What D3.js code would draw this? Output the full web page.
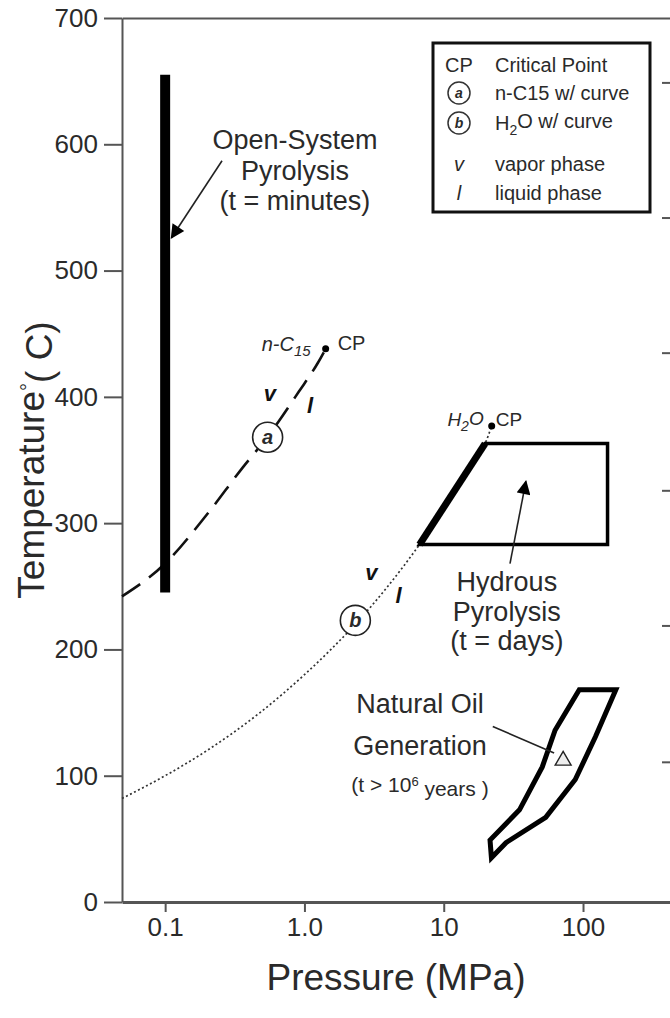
<!DOCTYPE html>
<html>
<head>
<meta charset="utf-8">
<script src="https://cdn.jsdelivr.net/npm/d3@7"></script>
<style>
  html, body { margin: 0; padding: 0; background: #fff; }
  svg { display: block; font-family: "Liberation Sans", Arial, Helvetica, sans-serif; }
</style>
</head>
<body>
<svg id="chart" width="670" height="1018"></svg>
<script>
// axis values
const pressureTicks = [0.1, 1, 10, 100]
const pressureTickLabels = ['0.1', '1.0', '10', '100']
const tempTicks = [0, 100, 200, 300, 400, 500, 600, 700]
const rightTicks = [111, 219, 326, 435, 542, 649]

// phase curves, [pressure MPa, temperature C]
const nC15Curve = [[0.049, 242], [0.1, 268], [0.2, 307], [0.36, 344], [0.54, 368], [0.91, 404], [1.25, 427], [1.42, 438]]
const waterCurve = [[0.049, 82], [0.1, 100], [0.2, 120], [0.48, 150], [1.0, 180], [1.55, 200], [2.32, 220], [3.97, 250],
  [6.7, 283], [8.6, 300], [12.8, 330], [16.5, 350], [19.8, 363], [22.1, 377]]
const criticalPoints = [{p: 1.42, t: 438, name: 'n-C15'}, {p: 22.1, t: 377, name: 'H2O'}]

// experiment / nature fields
const openSystem = {p: 0.1, tMin: 245, tMax: 655}
const hydrousField = [[6.7, 283], [19.8, 363], [150, 363], [150, 283]]
const naturalOilField = [[94, 168], [172, 168], [123, 131], [88, 97], [54, 67], [28, 47], [22, 35], [21.5, 49], [35, 73], [51, 107], [63, 136]]
const naturalOilMarker = [72, 112]

// curve markers
const curveCircles = [{label: 'a', p: 0.544, t: 368}, {label: 'b', p: 2.32, t: 223}]
const phaseLabels = [{txt: 'v', p: 0.564, t: 403}, {txt: 'l', p: 1.096, t: 393}, {txt: 'v', p: 3.02, t: 261}, {txt: 'l', p: 4.73, t: 243}]

const svg = d3.select('#chart')
const mLeft = 122, mRight = 674, mTop = 18, mBottom = 902

const x = d3.scaleLog().domain([0.049, 450]).range([mLeft, mRight])
const y = d3.scaleLinear().domain([0, 700]).range([mBottom, mTop])

const axisColor = '#555'
const textColor = '#2a2a2a'

// frame / axes
const yAxis = svg.append('g').attr('transform', `translate(${mLeft},0)`)
  .call(d3.axisLeft(y).tickValues(tempTicks).tickSize(18).tickSizeOuter(0).tickPadding(6))
const xAxis = svg.append('g').attr('transform', `translate(0,${mBottom})`)
  .call(d3.axisBottom(x).tickValues(pressureTicks).tickFormat((d, i) => pressureTickLabels[i]).tickSize(10).tickSizeOuter(0).tickPadding(6))
const topAxis = svg.append('g').attr('transform', `translate(0,${mTop})`)
  .call(d3.axisTop(x).tickValues([]).tickSizeOuter(0))
const rightAxis = svg.append('g').attr('transform', `translate(${mRight},0)`)
  .call(d3.axisLeft(y).tickValues(rightTicks).tickSize(12).tickFormat(''))
rightAxis.select('.domain').remove()

;[yAxis, xAxis, topAxis, rightAxis].forEach(g => {
  g.selectAll('path, line').attr('stroke', axisColor).attr('stroke-width', 2)
  g.selectAll('text').attr('fill', textColor).style('font-size', '26px')
})
xAxis.select('.domain').attr('stroke-width', 3)

// axis titles
svg.append('text')
  .attr('x', (mLeft + 670) / 2).attr('y', 990)
  .attr('text-anchor', 'middle')
  .attr('fill', textColor)
  .style('font-size', '37px')
  .text('Pressure (MPa)')

const yTitle = svg.append('text')
  .attr('transform', `translate(44,${(mTop + mBottom) / 2}) rotate(-90)`)
  .attr('text-anchor', 'middle')
  .attr('fill', textColor)
  .style('font-size', '37px')
yTitle.append('tspan').text('Temperature')
yTitle.append('tspan').attr('dy', '-0.45em').style('font-size', '20px').text('°')
yTitle.append('tspan').attr('dy', '0.45em').text('( C)')

const line = d3.line().x(d => x(d[0])).y(d => y(d[1])).curve(d3.curveMonotoneX)
const polygon = d3.line().x(d => x(d[0])).y(d => y(d[1])).curve(d3.curveLinearClosed)

// water vapour/liquid curve (dotted)
svg.append('path')
  .attr('d', line(waterCurve))
  .attr('fill', 'none')
  .attr('stroke', '#333')
  .attr('stroke-width', 1.7)
  .attr('stroke-dasharray', '2,2.5')

// n-C15 curve (dashed)
svg.append('path')
  .attr('d', line(nC15Curve))
  .attr('fill', 'none')
  .attr('stroke', '#111')
  .attr('stroke-width', 2.6)
  .attr('stroke-dasharray', '22,11')

// open-system pyrolysis bar
svg.append('line')
  .attr('x1', x(openSystem.p)).attr('x2', x(openSystem.p))
  .attr('y1', y(openSystem.tMin)).attr('y2', y(openSystem.tMax))
  .attr('stroke', '#000')
  .attr('stroke-width', 10)

// hydrous pyrolysis field
svg.append('path')
  .attr('d', polygon(hydrousField))
  .attr('fill', 'none')
  .attr('stroke', '#000')
  .attr('stroke-width', 3.5)
svg.append('line')
  .attr('x1', x(hydrousField[0][0])).attr('y1', y(hydrousField[0][1]))
  .attr('x2', x(hydrousField[1][0])).attr('y2', y(hydrousField[1][1]))
  .attr('stroke', '#000')
  .attr('stroke-width', 7)

// natural oil generation field
svg.append('path')
  .attr('d', polygon(naturalOilField))
  .attr('fill', 'none')
  .attr('stroke', '#000')
  .attr('stroke-width', 5)
  .attr('stroke-linejoin', 'miter')

// circled curve labels
const circ = svg.selectAll('g.curveCircle').data(curveCircles).enter().append('g')
  .attr('class', 'curveCircle')
  .attr('transform', d => `translate(${x(d.p)},${y(d.t)})`)
circ.append('circle').attr('r', 15).attr('fill', '#fff').attr('stroke', '#222').attr('stroke-width', 1.6)
circ.append('text')
  .attr('text-anchor', 'middle').attr('dy', '0.35em')
  .style('font-size', '20px').style('font-style', 'italic').style('font-weight', 'bold')
  .attr('fill', textColor)
  .text(d => d.label)

// v / l phase labels
svg.selectAll('text.phase').data(phaseLabels).enter().append('text')
  .attr('class', 'phase')
  .attr('x', d => x(d.p)).attr('y', d => y(d.t))
  .attr('text-anchor', 'middle').attr('dy', '0.35em')
  .style('font-size', '22px').style('font-style', 'italic').style('font-weight', 'bold')
  .attr('fill', '#111')
  .text(d => d.txt)

// critical points
svg.selectAll('circle.cp').data(criticalPoints).enter().append('circle')
  .attr('class', 'cp')
  .attr('cx', d => x(d.p)).attr('cy', d => y(d.t))
  .attr('r', 3.5).attr('fill', '#000')

const cpN = criticalPoints[0], cpW = criticalPoints[1]
const nLab = svg.append('text')
  .attr('x', x(cpN.p) - 15).attr('y', y(cpN.t) + 2)
  .attr('text-anchor', 'end').attr('fill', textColor)
  .style('font-size', '20px').style('font-style', 'italic')
nLab.append('tspan').text('n-C')
nLab.append('tspan').attr('dy', '0.35em').style('font-size', '15px').text('15')
svg.append('text')
  .attr('x', x(cpN.p) + 12).attr('y', y(cpN.t) + 1)
  .attr('fill', textColor).style('font-size', '20px')
  .text('CP')

const wLab = svg.append('text')
  .attr('x', x(cpW.p) - 8).attr('y', y(cpW.t))
  .attr('text-anchor', 'end').attr('fill', textColor)
  .style('font-size', '19px').style('font-style', 'italic')
wLab.append('tspan').text('H')
wLab.append('tspan').attr('dy', '0.35em').style('font-size', '14px').text('2')
wLab.append('tspan').attr('dy', '-0.3em').text('O')
svg.append('text')
  .attr('x', x(cpW.p) + 4).attr('y', y(cpW.t))
  .attr('fill', textColor).style('font-size', '19px')
  .text('CP')

// annotations
const multiLine = (p, t, lines, size, lh) => {
  const txt = svg.append('text')
    .attr('x', x(p)).attr('y', y(t))
    .attr('text-anchor', 'middle').attr('fill', textColor)
    .style('font-size', size + 'px')
  lines.forEach((l, i) => txt.append('tspan').attr('x', x(p)).attr('dy', i ? lh : 0).text(l))
  return txt
}
multiLine(0.855, 596, ['Open-System', 'Pyrolysis', '(t = minutes)'], 27, 30.5)
multiLine(28.4, 246, ['Hydrous', 'Pyrolysis', '(t = days)'], 27, 29.5)
multiLine(6.75, 150, ['Natural Oil', 'Generation'], 27, 42)

const yrs = svg.append('text')
  .attr('x', x(6.75)).attr('y', y(87))
  .attr('text-anchor', 'middle').attr('fill', textColor)
  .style('font-size', '21px')
yrs.append('tspan').text('(t > 10')
yrs.append('tspan').attr('dy', '-0.5em').style('font-size', '13px').text('6')
yrs.append('tspan').attr('dy', '0.5em').text(' years )')

// arrows
const defs = svg.append('defs')
defs.append('marker')
  .attr('id', 'bigHead')
  .attr('viewBox', '0 0 10 10').attr('refX', 9).attr('refY', 5)
  .attr('markerWidth', 16).attr('markerHeight', 14)
  .attr('markerUnits', 'userSpaceOnUse')
  .attr('orient', 'auto')
  .append('path').attr('d', 'M0,0 L10,5 L0,10 Z').attr('fill', '#000')

const arrow = (from, to, head) => svg.append('line')
  .attr('x1', x(from[0])).attr('y1', y(from[1]))
  .attr('x2', x(to[0])).attr('y2', y(to[1]))
  .attr('stroke', '#222').attr('stroke-width', 1.6)
  .attr('marker-end', head ? 'url(#bigHead)' : null)

arrow([0.256, 587], [0.111, 526], true)
arrow([29.9, 268], [38.9, 333], true)
arrow([22.5, 139], [62, 118], false)

svg.append('path')
  .attr('d', d3.symbol().type(d3.symbolTriangle).size(110)())
  .attr('transform', `translate(${x(naturalOilMarker[0])},${y(naturalOilMarker[1])})`)
  .attr('fill', '#eee').attr('stroke', '#222').attr('stroke-width', 1.4)

// legend
const legend = svg.append('g').attr('transform', 'translate(433,43)')
legend.append('rect').attr('width', 217).attr('height', 169)
  .attr('fill', '#fff').attr('stroke', '#111').attr('stroke-width', 3)

const legendRows = [
  {sym: 'CP', kind: 'text', label: 'Critical Point', yy: 22},
  {sym: 'a', kind: 'circle', label: 'n-C15 w/ curve', yy: 50},
  {sym: 'b', kind: 'circle', label: 'H2O w/ curve', yy: 80},
  {sym: 'v', kind: 'italic', label: 'vapor phase', yy: 121},
  {sym: 'l', kind: 'italic', label: 'liquid phase', yy: 150}
]
const rows = legend.selectAll('g.row').data(legendRows).enter().append('g')
  .attr('class', 'row')
  .attr('transform', d => `translate(0,${d.yy})`)

rows.filter(d => d.kind === 'circle').append('circle')
  .attr('cx', 26).attr('r', 11).attr('fill', '#fff').attr('stroke', '#333').attr('stroke-width', 1.5)
rows.append('text')
  .attr('x', 26).attr('dy', '0.35em')
  .attr('text-anchor', 'middle').attr('fill', textColor)
  .style('font-size', d => d.kind === 'circle' ? '14px' : '20px')
  .style('font-style', d => d.kind === 'text' ? 'normal' : 'italic')
  .style('font-weight', d => d.kind === 'circle' ? 'bold' : 'normal')
  .text(d => d.sym)

rows.each(function(d) {
  const t = d3.select(this).append('text')
    .attr('x', 62).attr('dy', '0.35em').attr('fill', textColor)
    .style('font-size', '20px')
  if (d.label.startsWith('H2O')) {
    t.append('tspan').text('H')
    t.append('tspan').attr('dy', '0.35em').style('font-size', '14px').text('2')
    t.append('tspan').attr('dy', '-0.35em').text('O w/ curve')
  } else {
    t.text(d.label)
  }
})
</script>
</body>
</html>
